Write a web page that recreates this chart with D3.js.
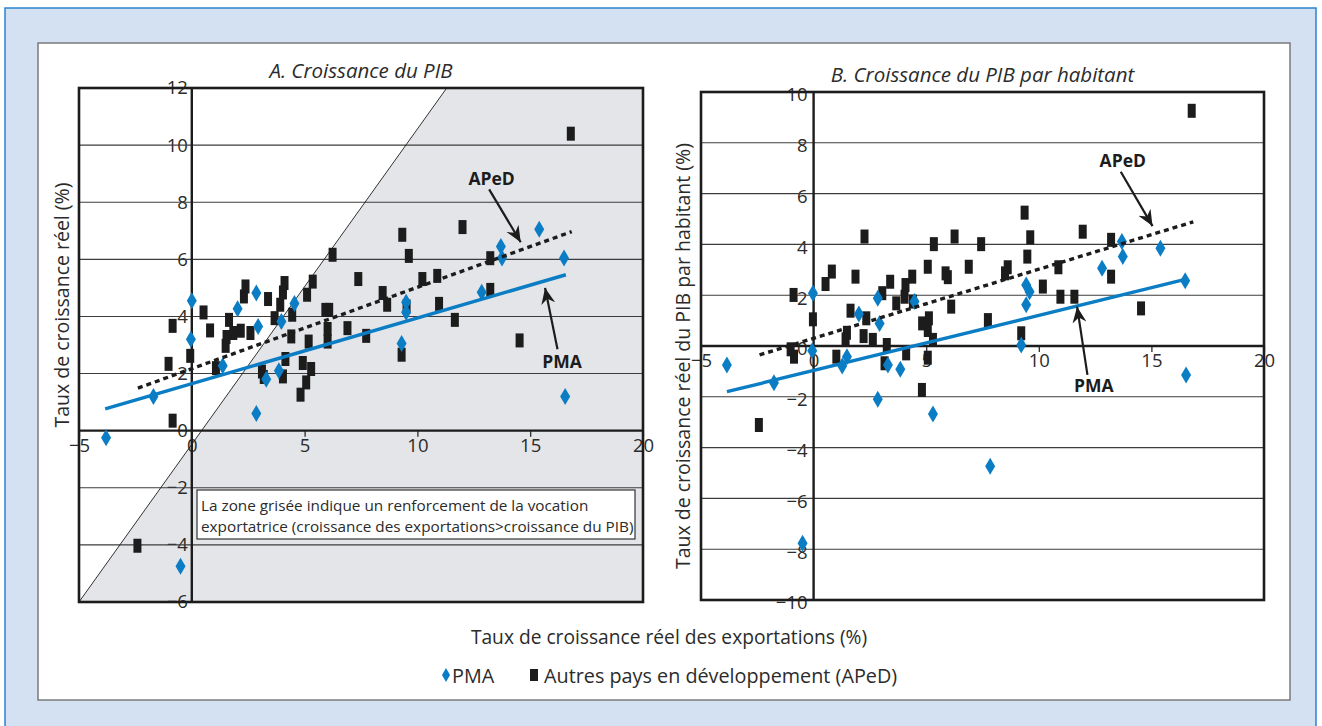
<!DOCTYPE html>
<html>
<head>
<meta charset="utf-8">
<script src="https://cdn.jsdelivr.net/npm/d3@7"></script>
<style>
  html, body { margin: 0; padding: 0; background: #fff; }
  svg { display: block; font-family: "Open Sans", Lato, sans-serif; }
  .tick text { font-size: 18.5px; fill: #2b2b2b; font-family: "Open Sans", sans-serif; }
</style>
</head>
<body>
<div id="chart"></div>
<script>
// --- data: (export growth %, growth %) ---
const pmaA = [[-3.8,-0.25],[-1.7,1.2],[0,4.55],[-0.04,3.2],[1.37,2.27],[2.86,4.82],[2.94,3.65],[2.03,4.27],
  [2.86,0.6],[3.3,1.8],[3.97,3.82],[3.86,2.1],[4.55,4.45],[9.5,4.5],[9.5,4.15],[9.3,3.05],[12.85,4.85],
  [13.7,6.45],[13.75,6.05],[15.4,7.05],[16.5,6.05],[16.55,1.2],[-0.5,-4.75]];
const apedA = [[-0.85,3.67],[-1.03,2.34],[-0.85,0.35],[-0.07,2.62],[0.52,4.14],[0.81,3.51],[1.07,2.19],[1.5,2.97],
  [1.54,3.28],[1.65,3.88],[1.84,3.42],[2.17,3.5],[2.31,4.7],[2.38,5.05],[2.6,3.42],[3.11,2.07],[3.19,1.88],
  [3.38,4.61],[3.67,3.94],[3.92,4.41],[4.04,4.84],[4.11,5.17],[4.04,1.9],[4.15,2.51],[4.45,4.06],[4.41,3.3],
  [4.92,2.37],[5.29,2.16],[5.07,1.69],[4.82,1.26],[5.11,4.76],[5.18,3.12],[5.36,5.22],[5.92,4.23],[6.09,4.23],
  [6.24,6.16],[6.02,3.56],[6.02,3.12],[6.9,3.59],[7.38,5.31],[9.62,6.12],[8.46,4.82],[8.66,4.41],[7.73,3.32],
  [10.22,5.31],[10.88,5.42],[9.52,4.35],[10.96,4.44],[11.66,3.88],[9.3,2.66],[13.23,6.04],[13.23,4.93],
  [14.53,3.16],[16.8,10.4],[9.33,6.86],[12.0,7.13],[-2.41,-4.03]];
const pmaB = [[-3.85,-0.75],[-1.76,-1.45],[-0.03,2.08],[-0.06,-0.19],[1.27,-0.79],[1.48,-0.42],[2.01,1.26],
  [2.85,1.88],[2.93,0.89],[2.85,-2.1],[3.3,-0.75],[3.85,-0.92],[4.48,1.75],[5.3,-2.68],[7.84,-4.73],
  [-0.49,-7.77],[12.81,3.06],[13.69,4.11],[13.73,3.52],[15.4,3.85],[9.44,2.4],[9.59,2.14],[9.44,1.62],
  [9.22,0.04],[16.5,2.57],[16.54,-1.14]];
const apedB = [[-0.89,2.01],[-1.02,-0.13],[-0.87,-0.42],[-2.43,-3.11],[-0.03,1.05],[0.53,2.44],[0.81,2.93],
  [1.86,2.73],[1.01,-0.42],[1.42,0.26],[1.48,0.52],[1.64,1.39],[2.34,1.09],[2.22,0.39],[2.63,0.24],[3.05,2.08],
  [3.25,0.04],[3.15,-0.68],[3.4,2.53],[3.67,1.68],[4.04,1.94],[4.08,2.4],[4.38,2.73],[4.41,1.75],[4.11,-0.29],
  [4.82,0.89],[5.12,1.09],[5.07,0.63],[5.3,0.24],[5.07,-0.46],[4.81,-1.73],[5.07,3.12],[5.86,2.86],[5.96,2.71],
  [6.11,1.55],[6.89,3.12],[7.74,1.02],[2.26,4.31],[5.34,4.01],[6.26,4.31],[7.44,4.01],[16.79,9.26],[9.37,5.25],
  [9.62,4.28],[11.95,4.5],[13.21,4.18],[9.49,3.52],[8.62,3.1],[8.5,2.86],[10.87,3.1],[13.21,2.73],[10.18,2.34],
  [10.96,1.94],[11.58,1.94],[9.22,0.5],[14.54,1.48]];

// trend lines (start, end)
const trendPmaA = [[-3.84,0.76],[16.58,5.46]];
const trendApedA = [[-2.39,1.49],[16.84,6.97]];
const trendPmaB = [[-3.85,-1.8],[16.41,2.6]];
const trendApedB = [[-2.4,-0.35],[16.86,4.89]];

// shaded zone boundary in panel A
const zoneEdge = [[-5,-6],[11.3,12]];

// annotation arrows: label position, arrow start, arrow tip
const notesA = [
  { label: 'APeD', at: [13.29,8.85], from: [13.18,8.45], to: [14.58,6.6] },
  { label: 'PMA', at: [16.41,2.45], from: [16.21,2.85], to: [15.66,5.0] }
];
const notesB = [
  { label: 'APeD', at: [13.73,7.32], from: [13.64,6.86], to: [15.05,4.72] },
  { label: 'PMA', at: [12.44,-1.54], from: [12.16,-1.14], to: [11.7,1.55] }
];

const xTicks = [-5,0,5,10,15,20];
const yTicksA = [-6,-4,-2,0,2,4,6,8,10,12];
const yTicksB = [-10,-8,-6,-4,-2,0,2,4,6,8,10];

const BLUE = '#0b7dc5';
const INK = '#1c1c1c';
const TXT = '#2b2b2b';

const svg = d3.select('#chart').append('svg').attr('width', 1322).attr('height', 726);

// frame
svg.append('rect').attr('x', 5).attr('y', 8).attr('width', 1311).attr('height', 740)
  .attr('fill', '#d4e1f2').attr('stroke', '#2a82cf').attr('stroke-width', 1.5);
svg.append('rect').attr('x', 38).attr('y', 43).attr('width', 1252).attr('height', 657)
  .attr('fill', '#fff').attr('stroke', '#7a7a7a').attr('stroke-width', 1.5);

const defs = svg.append('defs');
defs.append('marker').attr('id', 'head')
  .attr('viewBox', '-16 -8 18 16').attr('refX', 0).attr('refY', 0)
  .attr('markerWidth', 18).attr('markerHeight', 16).attr('markerUnits', 'userSpaceOnUse')
  .attr('orient', 'auto')
  .append('path').attr('d', 'M0,0 L-16,-7 L-11,0 L-16,7 Z').attr('fill', INK);

const diamond = (w, h) => `M0,${-h / 2}L${w / 2},0L0,${h / 2}L${-w / 2},0Z`;

function drawPanel({ x, y, yTicks, pma, aped, trendPma, trendAped, notes, title, yTitle, yTitleX, yTitleY, zone, labelShift, yPad }) {
  const g = svg.append('g');
  const [x0, x1] = x.range();
  const [y0, y1] = y.range(); // bottom, top

  if (zone) {
    const poly = [zone[0], zone[1], [x.domain()[1], y.domain()[1]], [x.domain()[1], y.domain()[0]]];
    g.append('path')
      .attr('d', d3.line().x((d) => x(d[0])).y((d) => y(d[1]))(poly) + 'Z')
      .attr('fill', '#e4e5e8');
  }

  // tick labels
  g.append('g')
    .attr('transform', `translate(${x(0)},${labelShift})`)
    .call(d3.axisLeft(y).tickValues(yTicks).tickSize(0).tickPadding(yPad).tickFormat(d3.format('d')))
    .call((s) => s.select('.domain').remove());
  g.append('g')
    .attr('transform', `translate(0,${y(0)})`)
    .call(d3.axisBottom(x).tickValues(xTicks).tickSize(6).tickPadding(2).tickFormat(d3.format('d')))
    .call((s) => s.select('.domain').remove())
    .call((s) => s.selectAll('.tick line').attr('stroke', INK).attr('stroke-width', 1.2));

  // grid
  g.append('g').selectAll('line')
    .data(yTicks.filter((t) => t !== 0))
    .join('line')
    .attr('x1', x0).attr('x2', x1)
    .attr('y1', (d) => y(d)).attr('y2', (d) => y(d))
    .attr('stroke', '#3c3c3c').attr('stroke-width', 1.1);

  // axes through zero
  g.append('line').attr('x1', x0).attr('x2', x1).attr('y1', y(0)).attr('y2', y(0))
    .attr('stroke', INK).attr('stroke-width', 2.4);
  g.append('line').attr('x1', x(0)).attr('x2', x(0)).attr('y1', y0).attr('y2', y1)
    .attr('stroke', INK).attr('stroke-width', 2.4);

  g.append('rect').attr('x', x0).attr('y', y1).attr('width', x1 - x0).attr('height', y0 - y1)
    .attr('fill', 'none').attr('stroke', INK).attr('stroke-width', 2.6);

  if (zone) {
    g.append('line')
      .attr('x1', x(zone[0][0])).attr('y1', y(zone[0][1]))
      .attr('x2', x(zone[1][0])).attr('y2', y(zone[1][1]))
      .attr('stroke', INK).attr('stroke-width', 0.9);
  }

  // points
  g.append('g').selectAll('rect')
    .data(aped)
    .join('rect')
    .attr('x', (d) => x(d[0]) - 4).attr('y', (d) => y(d[1]) - 7)
    .attr('width', 8).attr('height', 14)
    .attr('fill', INK);
  g.append('g').selectAll('path')
    .data(pma)
    .join('path')
    .attr('transform', (d) => `translate(${x(d[0])},${y(d[1])})`)
    .attr('d', diamond(10, 17))
    .attr('fill', BLUE);

  // trend lines
  const line = d3.line().x((d) => x(d[0])).y((d) => y(d[1]));
  g.append('path').attr('d', line(trendPma))
    .attr('stroke', BLUE).attr('stroke-width', 3.4).attr('fill', 'none');
  g.append('path').attr('d', line(trendAped))
    .attr('stroke', INK).attr('stroke-width', 3.4).attr('stroke-dasharray', '5,4').attr('fill', 'none');

  // annotations
  notes.forEach((n) => {
    g.append('text')
      .attr('x', x(n.at[0])).attr('y', y(n.at[1]))
      .attr('text-anchor', 'middle').attr('dominant-baseline', 'central')
      .attr('font-size', 17.5).attr('font-weight', 700).attr('fill', INK)
      .text(n.label);
    g.append('line')
      .attr('x1', x(n.from[0])).attr('y1', y(n.from[1]))
      .attr('x2', x(n.to[0])).attr('y2', y(n.to[1]))
      .attr('stroke', INK).attr('stroke-width', 2.2)
      .attr('marker-end', 'url(#head)');
  });

  // titles
  svg.append('text')
    .attr('x', (x0 + x1) / 2).attr('y', y1 - 10)
    .attr('text-anchor', 'middle').attr('font-size', 20.5).attr('font-style', 'italic').attr('fill', TXT)
    .text(title);
  svg.append('text')
    .attr('transform', `translate(${yTitleX},${yTitleY}) rotate(-90)`)
    .attr('text-anchor', 'middle').attr('dominant-baseline', 'central')
    .attr('font-size', 19.5).attr('fill', TXT)
    .text(yTitle);

  return g;
}

const xA = d3.scaleLinear().domain([-5, 20]).range([79, 643]);
const yA = d3.scaleLinear().domain([-6, 12]).range([602, 88]);
const xB = d3.scaleLinear().domain([-5, 20]).range([701, 1264]);
const yB = d3.scaleLinear().domain([-10, 10]).range([600, 92]);

drawPanel({
  x: xA, y: yA, yTicks: yTicksA, pma: pmaA, aped: apedA,
  trendPma: trendPmaA, trendAped: trendApedA, notes: notesA,
  title: 'A. Croissance du PIB', yTitle: 'Taux de croissance réel (%)', yTitleX: 61, yTitleY: 305,
  zone: zoneEdge, labelShift: 0, yPad: 4
});

// note box in panel A
const note = svg.append('g');
note.append('rect').attr('x', 197).attr('y', 490).attr('width', 438).attr('height', 49)
  .attr('fill', '#fff').attr('stroke', '#333').attr('stroke-width', 1.2);
['La zone grisée indique un renforcement de la vocation',
 'exportatrice (croissance des exportations>croissance du PIB)'].forEach((t, i) => {
  note.append('text').attr('x', 201).attr('y', 505 + i * 21)
    .attr('dominant-baseline', 'central').attr('font-size', 15.3).attr('fill', TXT).text(t);
});

drawPanel({
  x: xB, y: yB, yTicks: yTicksB, pma: pmaB, aped: apedB,
  trendPma: trendPmaB, trendAped: trendApedB, notes: notesB,
  title: 'B. Croissance du PIB par habitant', yTitle: 'Taux de croissance réel du PIB par habitant (%)',
  yTitleX: 682, yTitleY: 356,
  zone: null, labelShift: 3, yPad: 6
});

// shared x title
svg.append('text').attr('x', 669).attr('y', 636)
  .attr('text-anchor', 'middle').attr('dominant-baseline', 'central')
  .attr('font-size', 19.2).attr('fill', TXT)
  .text('Taux de croissance réel des exportations (%)');

// legend
const legend = svg.append('g').attr('transform', 'translate(0,675)');
legend.append('path').attr('transform', 'translate(446,0)').attr('d', diamond(8, 14)).attr('fill', BLUE);
legend.append('text').attr('x', 452).attr('dominant-baseline', 'central').attr('font-size', 19.8).attr('fill', TXT).text('PMA');
legend.append('rect').attr('x', 530).attr('y', -6).attr('width', 8).attr('height', 12).attr('fill', INK);
legend.append('text').attr('x', 544).attr('dominant-baseline', 'central').attr('font-size', 19.8).attr('fill', TXT)
  .text('Autres pays en développement (APeD)');
</script>
</body>
</html>
